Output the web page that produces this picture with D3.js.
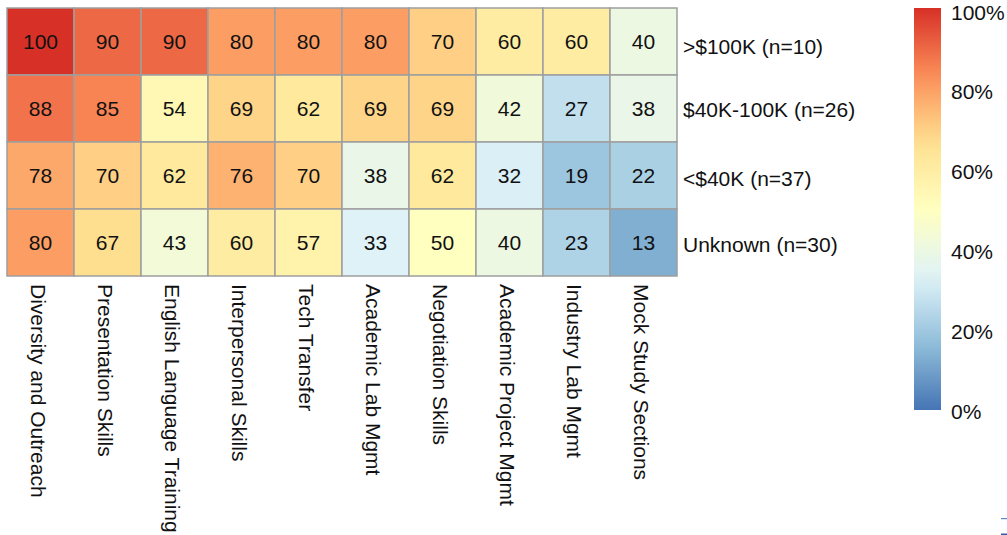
<!DOCTYPE html>
<html>
<head>
<meta charset="utf-8">
<script src="https://cdn.jsdelivr.net/npm/d3@7"></script>
<style>
  html, body { margin: 0; padding: 0; background: #fff; }
  svg { display: block; font-family: "Liberation Sans", Arial, Helvetica, sans-serif; }
</style>
</head>
<body>
<svg id="chart" width="1007" height="535"></svg>
<script>
// ---- data ----
const columns = ["Diversity and Outreach", "Presentation Skills", "English Language Training",
  "Interpersonal Skills", "Tech Transfer", "Academic Lab Mgmt", "Negotiation Skills",
  "Academic Project Mgmt", "Industry Lab Mgmt", "Mock Study Sections"];
const rows = [">$100K (n=10)", "$40K-100K (n=26)", "<$40K (n=37)", "Unknown (n=30)"];
const rowOver100K = [100, 90, 90, 80, 80, 80, 70, 60, 60, 40];
const row40to100K = [88, 85, 54, 69, 62, 69, 69, 42, 27, 38];
const rowUnder40K = [78, 70, 62, 76, 70, 38, 62, 32, 19, 22];
const rowUnknown = [80, 67, 43, 60, 57, 33, 50, 40, 23, 13];
const legendTicks = [0, 20, 40, 60, 80, 100];
const palette = ["#4575b4", "#91bfdb", "#e0f3f8", "#ffffbf", "#fee090", "#fc8d59", "#d73027"];

const values = [rowOver100K, row40to100K, rowUnder40K, rowUnknown];
const cells = [];
rows.forEach((r, i) => columns.forEach((c, j) => cells.push({ row: r, col: c, value: values[i][j] })));

// ---- style / layout ----
const FONT = 21;
const rowLabelNudge = [5.3, 0.7, 2.8, 1.5];

const svg = d3.select("#chart");

const x = d3.scaleBand().domain(columns).range([7, 677]);
const y = d3.scaleBand().domain(rows).range([8, 276]);
const color = d3.scaleLinear()
  .domain(palette.map((_, i) => i * 100 / (palette.length - 1)))
  .range(palette)
  .interpolate(d3.interpolateRgb);

// cells
svg.append("g").selectAll("rect").data(cells).join("rect")
  .attr("x", d => x(d.col))
  .attr("y", d => y(d.row))
  .attr("width", x.bandwidth())
  .attr("height", y.bandwidth())
  .attr("fill", d => color(d.value))
  .attr("stroke", "#9e9e9e")
  .attr("stroke-width", 1.5);

// cell values
svg.append("g").selectAll("text").data(cells).join("text")
  .attr("x", d => x(d.col) + x.bandwidth() / 2)
  .attr("y", d => y(d.row) + y.bandwidth() / 2)
  .attr("text-anchor", "middle")
  .attr("dominant-baseline", "central")
  .attr("font-size", FONT)
  .attr("fill", "#111")
  .text(d => d.value);

// row labels
svg.append("g").selectAll("text").data(rows).join("text")
  .attr("x", 683)
  .attr("y", (d, i) => y(d) + y.bandwidth() / 2 + rowLabelNudge[i])
  .attr("dominant-baseline", "central")
  .attr("font-size", FONT)
  .attr("fill", "#111")
  .text(d => d);

// column labels
svg.append("g").selectAll("text").data(columns).join("text")
  .attr("transform", d => `translate(${x(d) + x.bandwidth() / 2 - 10},284) rotate(90)`)
  .attr("text-anchor", "start")
  .attr("font-size", FONT)
  .attr("fill", "#111")
  .text(d => d);

// legend
const ly = d3.scaleLinear().domain([0, 100]).range([410, 8]);
const defs = svg.append("defs");
const grad = defs.append("linearGradient")
  .attr("id", "lg").attr("x1", 0).attr("y1", 1).attr("x2", 0).attr("y2", 0);
d3.range(0, 101, 5).forEach(v => {
  grad.append("stop").attr("offset", v / 100).attr("stop-color", color(v));
});
svg.append("rect")
  .attr("x", 914).attr("y", ly(100))
  .attr("width", 27).attr("height", ly(0) - ly(100))
  .attr("fill", "url(#lg)");

const labelY = d3.scaleLinear().domain([0, 100]).range([411, 12]);
svg.append("g").selectAll("text").data(legendTicks).join("text")
  .attr("x", 951)
  .attr("y", d => labelY(d))
  .attr("dominant-baseline", "central")
  .attr("font-size", FONT)
  .attr("fill", "#111")
  .text(d => d + "%");

// small clipped marks at bottom-right edge
svg.append("rect").attr("x", 1001).attr("y", 518).attr("width", 6).attr("height", 1.2).attr("fill", "#5b8ac4");
svg.append("rect").attr("x", 1001).attr("y", 533.5).attr("width", 6).attr("height", 1.5).attr("fill", "#2f5fa8");
</script>
</body>
</html>
